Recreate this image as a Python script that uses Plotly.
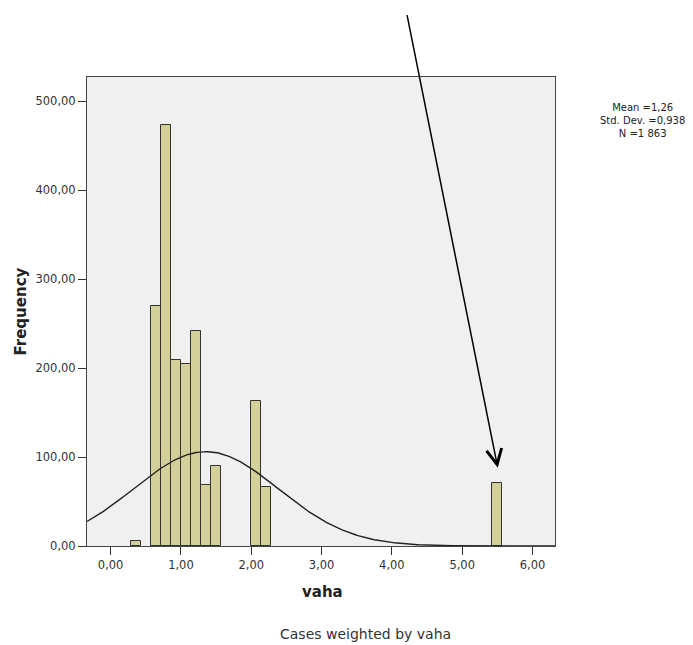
import numpy as np
import plotly.graph_objects as go

# ---- data ----
bin_width = 0.1425
bin_left_edges = [0.2875, 0.5725, 0.715, 0.8575, 1.0, 1.1425, 1.285, 1.4275, 2.0, 2.1425, 5.4175]
frequencies = [6, 270, 473, 209, 204, 242, 69, 90, 163, 66, 71]

x_ticks = [0, 1, 2, 3, 4, 5, 6]
x_tick_labels = ["0,00", "1,00", "2,00", "3,00", "4,00", "5,00", "6,00"]
y_ticks = [0, 100, 200, 300, 400, 500]
y_tick_labels = ["0,00", "100,00", "200,00", "300,00", "400,00", "500,00"]

stats_text = ["Mean =1,26", "Std. Dev. =0,938", "N =1 863"]

# normal curve as drawn (center, spread, peak height)
curve_center = 1.355
curve_sd = 1.03
curve_peak = 106.0

x_range = [-0.336, 6.32]
y_range = [0, 527]

bin_centers = [e + bin_width / 2 for e in bin_left_edges]

curve_x = np.linspace(x_range[0], x_range[1], 400)
curve_y = curve_peak * np.exp(-0.5 * ((curve_x - curve_center) / curve_sd) ** 2)

# ---- figure geometry (pixels) ----
W, H = 693, 645
L, R, T, B = 87, 555, 77, 546
pw, ph = R - L, B - T


def px_x(p):
    return (p - L) / pw


def px_y(p):
    return (B - p) / ph


font_family = "DejaVu Sans, Verdana, sans-serif"

fig = go.Figure()
fig.add_trace(go.Bar(
    x=bin_centers, y=frequencies, width=bin_width,
    marker=dict(color="#d4d099", line=dict(color="#333333", width=1)),
    showlegend=False, hoverinfo="x+y",
))
fig.add_trace(go.Scatter(
    x=curve_x, y=curve_y, mode="lines",
    line=dict(color="#222222", width=1.4), showlegend=False,
))

annotations = []
# stats block (centred lines)
annotations.append(dict(
    x=px_x(642), xref="paper", y=px_y(120.5), yref="paper",
    text="<br>".join(stats_text), showarrow=False, align="center",
    xanchor="center", yanchor="middle",
    font=dict(size=10, color="#222222", family=font_family),
))
# axis titles
annotations.append(dict(
    x=px_x(20), xref="paper", y=0.5, yref="paper",
    text="<b>Frequency</b>", showarrow=False, textangle=-90,
    xanchor="center", yanchor="middle",
    font=dict(size=15, color="#222222", family=font_family),
))
annotations.append(dict(
    x=px_x(322), xref="paper", y=px_y(592), yref="paper",
    text="<b>vaha</b>", showarrow=False,
    xanchor="center", yanchor="middle",
    font=dict(size=15, color="#222222", family=font_family),
))
# footnote
annotations.append(dict(
    x=px_x(365), xref="paper", y=px_y(634), yref="paper",
    text="Cases weighted by vaha", showarrow=False,
    xanchor="center", yanchor="middle",
    font=dict(size=14, color="#333333", family=font_family),
))
# arrow pointing at the outlier bin
annotations.append(dict(
    x=5.506, xref="x", y=88, yref="y",
    ax=-91, ay=-454, axref="pixel", ayref="pixel",
    text="", showarrow=True, arrowhead=5, arrowsize=2,
    arrowwidth=1.5, arrowcolor="#000000",
))

fig.update_layout(
    width=W, height=H,
    margin=dict(l=L, r=W - R, t=T, b=H - B, autoexpand=False),
    paper_bgcolor="white", plot_bgcolor="#f0f0f0",
    font=dict(family=font_family, size=11, color="#333333"),
    bargap=0,
    xaxis=dict(
        range=x_range, tickvals=x_ticks, ticktext=x_tick_labels,
        showgrid=False, zeroline=False, automargin=False,
        showline=True, mirror=True, linecolor="#444444", linewidth=1,
        ticks="outside", ticklen=8, tickcolor="#333333", tickwidth=1,
        tickfont=dict(size=11.5, color="#333333", family=font_family),
    ),
    yaxis=dict(
        range=y_range, tickvals=y_ticks, ticktext=y_tick_labels,
        showgrid=False, zeroline=False, automargin=False,
        showline=True, mirror=True, linecolor="#444444", linewidth=1,
        ticks="outside", ticklen=8, tickcolor="#333333", tickwidth=1,
        tickfont=dict(size=11.5, color="#333333", family=font_family),
    ),
    annotations=annotations,
)

# remove the browser's default page margin so the figure fills the window exactly
fig.write_html(
    "out.html",
    config={"displayModeBar": False},
    post_script="document.body.style.margin='0';document.body.style.overflow='hidden';",
)
